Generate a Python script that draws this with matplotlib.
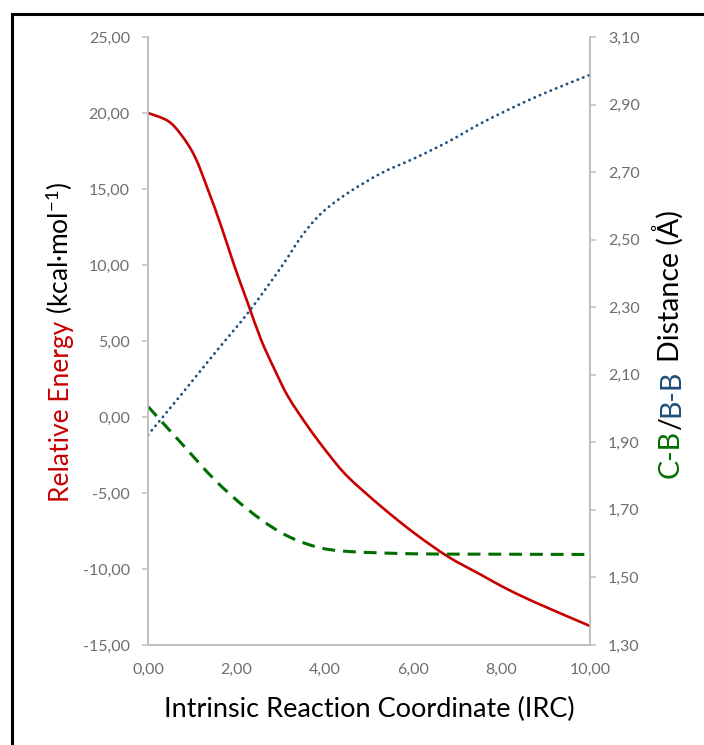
import numpy as np
import matplotlib
matplotlib.use("Agg")
import matplotlib.pyplot as plt
from matplotlib.ticker import FixedLocator, FuncFormatter
from matplotlib.patches import Rectangle, PathPatch
from matplotlib.path import Path

# ==========================================
# DATA
# ==========================================

irc_energy = [0.00, 0.45, 0.75, 1.06, 1.36, 1.66, 1.96, 2.26, 2.56, 2.87,
              3.17, 3.62, 4.07, 4.52, 5.28, 6.03, 6.79, 7.54, 8.00, 8.50,
              9.00, 9.50, 10.00]
rel_energy = [20.00, 19.48, 18.57, 17.13, 14.93, 12.52, 9.89, 7.48, 5.07, 3.09,
              1.34, -0.64, -2.39, -3.93, -5.90, -7.65, -9.19, -10.39, -11.13, -11.85,
              -12.50, -13.13, -13.75]

irc_bb = [0.00, 0.75, 1.51, 2.26, 3.02, 3.47, 3.92, 4.52, 5.28, 6.03,
          6.79, 7.54, 8.30, 9.05, 10.00]
dist_bb = [1.922, 2.041, 2.164, 2.283, 2.420, 2.509, 2.578, 2.638, 2.697, 2.741,
           2.790, 2.845, 2.894, 2.938, 2.988]

irc_cb = [0.00, 0.75, 1.51, 2.26, 3.02, 3.77, 4.52, 6.03, 7.54, 10.00]
dist_cb = [2.006, 1.898, 1.789, 1.701, 1.632, 1.592, 1.577, 1.570, 1.569, 1.568]

x_ticks = [0, 2, 4, 6, 8, 10]
left_ticks = [-15, -10, -5, 0, 5, 10, 15, 20, 25]
right_ticks = [1.30, 1.50, 1.70, 1.90, 2.10, 2.30, 2.50, 2.70, 2.90, 3.10]

RED = "#C80000"
GREEN = "#006E00"
BLUE = "#1F4E79"
GRID_GRAY = "#BFBFBF"
TICK_GRAY = "#6E6E6E"

plt.rcParams["font.family"] = ["Lato", "DejaVu Sans"]
plt.rcParams["mathtext.fontset"] = "custom"
plt.rcParams["mathtext.rm"] = "Lato"
plt.rcParams["mathtext.it"] = "Lato:italic"
plt.rcParams["mathtext.bf"] = "Lato:bold"

comma = FuncFormatter(lambda v, pos: f"{v:.2f}".replace(".", ","))


# Excel-style smoothed line (Catmull-Rom as cubic Bezier)
def smooth_path(x, y):
    pts = np.column_stack([x, y])
    verts = [pts[0]]
    codes = [Path.MOVETO]
    n = len(pts)
    for i in range(n - 1):
        p0 = pts[i - 1] if i > 0 else pts[i]
        p1 = pts[i]
        p2 = pts[i + 1]
        p3 = pts[i + 2] if i + 2 < n else pts[i + 1]
        verts += [p1 + (p2 - p0) / 6, p2 - (p3 - p1) / 6, p2]
        codes += [Path.CURVE4] * 3
    return Path(verts, codes)


# ==========================================
# FIGURE
# ==========================================

fig = plt.figure(figsize=(7.04, 7.45), dpi=100)
ax = fig.add_axes([148 / 704, 1 - 645 / 745, 442 / 704, 608 / 745])
ax2 = ax.twinx()

ax.add_patch(PathPatch(smooth_path(irc_energy, rel_energy), fill=False,
                       edgecolor=RED, lw=1.9, zorder=3))
ax2.add_patch(PathPatch(smooth_path(irc_bb, dist_bb), fill=False,
                        edgecolor=BLUE, lw=2.0, linestyle=(0, (0.1, 2.0)),
                        capstyle="round"))
ax2.add_patch(PathPatch(smooth_path(irc_cb, dist_cb), fill=False,
                        edgecolor=GREEN, lw=2.2, linestyle=(0, (4.2, 2.6))))

ax.set_xlim(0, 10)
ax.set_ylim(-15, 25)
ax2.set_ylim(1.30, 3.10)

ax.xaxis.set_major_locator(FixedLocator(x_ticks))
ax.yaxis.set_major_locator(FixedLocator(left_ticks))
ax2.yaxis.set_major_locator(FixedLocator(right_ticks))
for a in (ax.xaxis, ax.yaxis, ax2.yaxis):
    a.set_major_formatter(comma)

for a in (ax, ax2):
    a.spines["top"].set_visible(False)
    for side in ("left", "right", "bottom"):
        a.spines[side].set_color(GRID_GRAY)
        a.spines[side].set_linewidth(1.2)
    a.set_facecolor("none")

ax.tick_params(axis="y", direction="out", length=4.5, width=1.1, color=GRID_GRAY,
               labelcolor=TICK_GRAY, labelsize=11.5, pad=8.5)
ax2.tick_params(axis="y", direction="out", length=4.5, width=1.1, color=GRID_GRAY,
                labelcolor=TICK_GRAY, labelsize=11.5, pad=8.5)
ax.tick_params(axis="x", length=0, labelcolor=TICK_GRAY, labelsize=11.5, pad=13)

ax.set_xlabel("Intrinsic Reaction Coordinate (IRC)", fontsize=19.5, color="black",
              labelpad=14)

# ==========================================
# Y LABELS with coloured parts
# ==========================================

def coloured_label(x, yc, parts, size):
    r = fig.canvas.get_renderer()
    # width of a space in this font
    t1 = fig.text(0, 0, "a a", fontsize=size)
    t2 = fig.text(0, 0, "aa", fontsize=size)
    gap = (t1.get_window_extent(r).width - t2.get_window_extent(r).width)
    t1.remove()
    t2.remove()
    texts = []
    for s, c in parts:
        t = fig.text(x, 0, s.strip(), color=c, fontsize=size, rotation=90,
                     rotation_mode="anchor", ha="left", va="baseline")
        texts.append((t, s.startswith(" ")))
    lengths = [t.get_window_extent(r).height for t, _ in texts]
    total = sum(lengths) + gap * sum(sp for _, sp in texts)
    y = yc * fig.bbox.height - total / 2
    for (t, sp), h in zip(texts, lengths):
        if sp:
            y += gap
        t.set_y(y / fig.bbox.height)
        y += h


coloured_label(69 / 704, 1 - 342 / 745,
               [("Relative Energy", RED), (r" (kcal·mol$^{-1}$)", "black")], 19)
coloured_label(679 / 704, 1 - 344 / 745,
               [("C-B", GREEN), ("/", "black"), ("B-B", BLUE),
                (" Distance (Å)", "black")], 20.5)

# border round the figure
fig.add_artist(Rectangle((12 / 704, -0.1), 1.2, 1.1 - 14 / 745,
                         transform=fig.transFigure, fill=False,
                         edgecolor="black", lw=2.2))

fig.savefig("out.png", dpi=100)
